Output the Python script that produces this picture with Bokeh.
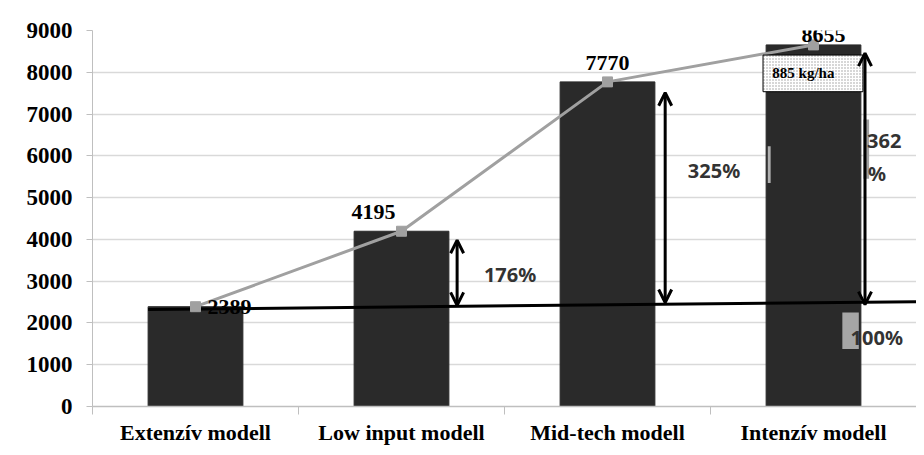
from bokeh.plotting import figure
from bokeh.models import Arrow, OpenHead, FixedTicker, ColumnDataSource
from bokeh.core.properties import value
from bokeh.embed import file_html
from bokeh.resources import INLINE

# ---- data ----
categories = ["Extenzív modell", "Low input modell", "Mid-tech modell", "Intenzív modell"]
yields = [2389, 4195, 7770, 8655]
trend_values = [2320, 2510]              # black base line, start/end
arrow_low = [2420, 2490, 2440]            # arrow bottoms
arrow_high = [3980, 7510, 8460]           # arrow tops
pct_texts = ["176%", "325%", "362", "%", "100%"]
pct_values = [3150, 5640, 6350, 5570, 1660]
box_text = "885 kg/ha"
box_values = [7535, 8412]
y_ticks = list(range(0, 9001, 1000))

# ---- positions / styles ----
xc = [i + 0.5 for i in range(len(categories))]
bar_w = 0.46
arrow_x = [1.77, 2.78, 3.75]
pct_x = [1.9, 2.89, 3.76, 3.765, 3.68]
lab_dx = [12, -28, 0, 10]
lab_dy = [0, -12, -12, -3]
lab_align = ["left", "center", "center", "center"]
lab_base = ["middle", "bottom", "bottom", "bottom"]

p = figure(width=916, height=447, x_range=(0, 4), y_range=(0, 9000),
           output_backend="svg", toolbar_location=None,
           min_border_left=92, min_border_right=0, min_border_top=30, min_border_bottom=38)
p.outline_line_color = None
p.background_fill_color = "white"
p.border_fill_color = "white"

# grid
p.xgrid.grid_line_color = None
p.ygrid.grid_line_color = "#d9d9d9"
p.ygrid.grid_line_width = 1.5
p.ygrid.ticker = FixedTicker(ticks=y_ticks)

# y axis
p.yaxis.ticker = FixedTicker(ticks=y_ticks)
p.yaxis.axis_line_color = "#bfbfbf"
p.yaxis.major_tick_line_color = "#bfbfbf"
p.yaxis.major_tick_out = 6
p.yaxis.major_tick_in = 0
p.yaxis.minor_tick_line_color = None
p.yaxis.major_label_standoff = 14
p.yaxis.major_label_text_font = "Liberation Serif"
p.yaxis.major_label_text_font_style = "bold"
p.yaxis.major_label_text_font_size = "23px"
p.yaxis.major_label_text_color = "black"

# x axis
p.xaxis.ticker = FixedTicker(ticks=xc, minor_ticks=[0, 1, 2, 3, 4])
p.xaxis.major_label_overrides = {x: c for x, c in zip(xc, categories)}
p.xaxis.axis_line_color = "#bfbfbf"
p.xaxis.axis_line_width = 1.5
p.xaxis.major_tick_line_color = None
p.xaxis.minor_tick_line_color = "#bfbfbf"
p.xaxis.minor_tick_out = 8
p.xaxis.minor_tick_in = 0
p.xaxis.major_label_standoff = 5
p.xaxis.major_label_text_font = "Liberation Serif"
p.xaxis.major_label_text_font_style = "bold"
p.xaxis.major_label_text_font_size = "22px"
p.xaxis.major_label_text_color = "black"

src = ColumnDataSource(dict(x=xc, y=yields, lab=[str(v) for v in yields],
                            dx=lab_dx, dy=lab_dy, al=lab_align, bl=lab_base))

# bars
p.vbar(x="x", top="y", width=bar_w, bottom=0, source=src, fill_color="#2a2a2a", line_color="#2a2a2a")

# black base line
p.line(x=[xc[0] - bar_w / 2, 4], y=trend_values, line_color="black", line_width=3)

# small gray patches
p.quad(left=[3.64], right=[3.72], bottom=[1375], top=[2250], fill_color="#a6a6a6", line_color=None)
p.quad(left=[3.278], right=[3.292], bottom=[5350], top=[6230], fill_color="#b0b0b0", line_color=None)

# arrows
for xa, lo, hi in zip(arrow_x, arrow_low, arrow_high):
    p.add_layout(Arrow(x_start=xa, y_start=lo, x_end=xa, y_end=hi,
                       start=OpenHead(size=13, line_width=3, line_color="black"),
                       end=OpenHead(size=13, line_width=3, line_color="black"),
                       line_width=3, line_color="black"))

p.quad(left=[3.742], right=[3.77], bottom=[5450], top=[6870], fill_color="#a0a0a0", line_color=None)

# gray series line
p.line(x="x", y="y", source=src, line_color="#a0a0a0", line_width=3)
p.scatter(x="x", y="y", source=src, marker="square", size=10, fill_color="#a0a0a0", line_color="#a0a0a0")

# value labels
p.text(x="x", y="y", text="lab", source=src, x_offset="dx", y_offset="dy",
       text_align="al", text_baseline="bl",
       text_font=value("Liberation Serif"), text_font_style="bold",
       text_font_size="22px", text_color="black")

# percentage labels
p.text(x=pct_x, y=pct_values, text=pct_texts, text_align="left", text_baseline="middle",
       text_font=value("Noto Sans"), text_font_style="bold", text_font_size="20px", text_color="#333333")

# 885 kg/ha box
p.quad(left=[3.255], right=[3.74], bottom=[box_values[0]], top=[box_values[1]],
       fill_color="white", hatch_pattern="dot", hatch_color="#9a9a9a", hatch_scale=3,
       line_color="black", line_width=1)
p.text(x=[3.3], y=[sum(box_values) / 2], text=[box_text], text_align="left", text_baseline="middle",
       text_font=value("Liberation Serif"), text_font_style="bold",
       text_font_size="15px", text_color="black")

open("out.html", "w").write(file_html(p, INLINE))
